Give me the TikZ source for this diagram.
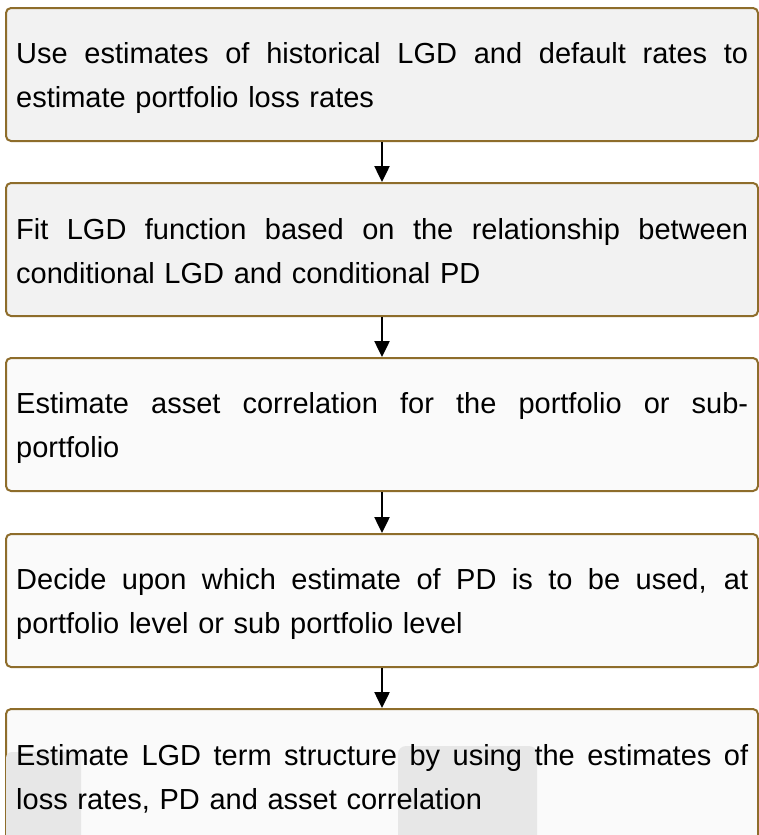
\documentclass[tikz,border=0pt]{standalone}
\usepackage{fontspec}
\setmainfont{Liberation Sans}
\usetikzlibrary{arrows.meta}
\definecolor{bordc}{HTML}{8E6D2B}
\definecolor{fillA}{HTML}{F2F2F2}
\definecolor{fillB}{HTML}{FAFAFA}
\definecolor{wmark}{HTML}{E7E7E7}
\newcommand\fullline[1]{\makebox[732pt][s]{\spaceskip=0pt\xspaceskip=0pt\relax #1}}
\begin{document}
\begin{tikzpicture}[x=1pt,y=-1pt,
  stepbox/.style={draw=bordc, line width=2pt, rounded corners=5pt,
    minimum width=752pt, minimum height=133pt, inner sep=0pt, anchor=north west},
  steptext/.style={anchor=base west, text width=732pt, align=left, inner sep=0pt,
    font=\fontsize{29}{44}\selectfont},
  flow/.style={-{Triangle[width=15pt,length=16pt]}, line width=2.5pt, draw=black}]
\useasboundingbox (0,0) rectangle (758,835);
\fill[white] (0,0) rectangle (758,835);
% boxes
\node[stepbox, fill=fillA] (b1) at (5,7) {};
\node[stepbox, fill=fillA] (b2) at (5,182) {};
\node[stepbox, fill=fillB] (b3) at (5,357) {};
\node[stepbox, fill=fillB] (b4) at (5,533) {};
\node[stepbox, fill=fillB] (b5) at (5,708) {};
% faint watermark patches
\fill[wmark, rounded corners=6pt] (6,752) rectangle (81,850);
\fill[wmark, rounded corners=8pt] (398,746) rectangle (537,850);
% texts
\node[steptext] (t1) at (16,63) {\fullline{Use estimates of historical LGD and default rates to}\\estimate portfolio loss rates};
\node[steptext] (t2) at (16,239) {\fullline{Fit LGD function based on the relationship between}\\conditional LGD and conditional PD};
\node[steptext] (t3) at (16,413) {\fullline{Estimate asset correlation for the portfolio or sub-}\\portfolio};
\node[steptext] (t4) at (16,589) {\fullline{Decide upon which estimate of PD is to be used, at}\\portfolio level or sub portfolio level};
\node[steptext] (t5) at (16,765) {\fullline{Estimate LGD term structure by using the estimates of}\\loss rates, PD and asset correlation};
% connectors
\draw[flow] (b1.south) -- (b2.north);
\draw[flow] (b2.south) -- (b3.north);
\draw[flow] (b3.south) -- (b4.north);
\draw[flow] (b4.south) -- (b5.north);
\end{tikzpicture}
\end{document}
